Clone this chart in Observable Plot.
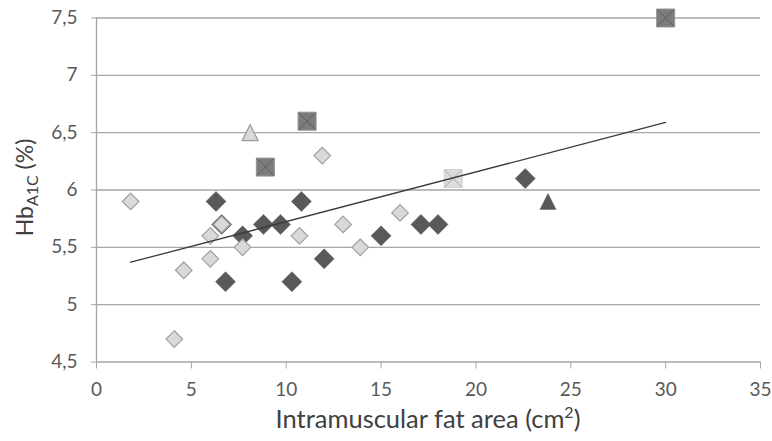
<!DOCTYPE html>
<html>
<head>
<meta charset="utf-8">
<script src="https://cdn.jsdelivr.net/npm/d3@7"></script>
<script src="https://cdn.jsdelivr.net/npm/@observablehq/plot@0.6"></script>
<style>
  html, body { margin: 0; padding: 0; background: #fff; }
</style>
</head>
<body>
<div id="chart"></div>
<script>
// ---- data ----
const xTicks = [0, 5, 10, 15, 20, 25, 30, 35];
const yTicks = [4.5, 5, 5.5, 6, 6.5, 7, 7.5];

const darkDiamondX = [6.3, 6.6, 6.8, 7.7, 8.8, 9.7, 10.3, 10.8, 12.0, 15.0, 17.1, 18.0, 22.6];
const darkDiamondY = [5.9, 5.7, 5.2, 5.6, 5.7, 5.7, 5.2, 5.9, 5.4, 5.6, 5.7, 5.7, 6.1];

const lightDiamondX = [1.8, 4.1, 4.6, 6.0, 6.0, 6.6, 7.7, 10.7, 11.9, 13.0, 13.9, 16.0];
const lightDiamondY = [5.9, 4.7, 5.3, 5.6, 5.4, 5.7, 5.5, 5.6, 6.3, 5.7, 5.5, 5.8];

const lightTriangleX = [8.1];
const lightTriangleY = [6.5];
const darkTriangleX = [23.8];
const darkTriangleY = [5.9];

const darkSquareX = [8.9, 11.1, 30.0];
const darkSquareY = [6.2, 6.6, 7.5];
const lightSquareX = [18.8];
const lightSquareY = [6.1];

const trendX = [1.8, 30.0];
const trendY = [5.37, 6.59];

// ---- helpers ----
const pts = (xs, ys) => xs.map((x, i) => ({x, y: ys[i]}));
const rOf = size => Math.sqrt(size / Math.PI);
const diamondSym = {draw(ctx, size) { const r = rOf(size); ctx.moveTo(0, -r); ctx.lineTo(r, 0); ctx.lineTo(0, r); ctx.lineTo(-r, 0); ctx.closePath(); }};
const squareSym = {draw(ctx, size) { const r = rOf(size); ctx.rect(-r, -r, 2 * r, 2 * r); }};
const timesSym = {draw(ctx, size) { const r = rOf(size); ctx.moveTo(-r, -r); ctx.lineTo(r, r); ctx.moveTo(r, -r); ctx.lineTo(-r, r); }};
const triangleSym = {draw(ctx, size) { const r = rOf(size); ctx.moveTo(0, -r); ctx.lineTo(r, r); ctx.lineTo(-r, r); ctx.closePath(); }};

const FONT = "Lato, 'Open Sans', sans-serif";
const axisColor = "#a6a6a6";
const textColor = "#595959";

const plot = Plot.plot({
  width: 772,
  height: 441,
  marginLeft: 96,
  marginRight: 12,
  marginTop: 17.5,
  marginBottom: 79.5,
  style: {fontFamily: FONT, fontSize: "19px", color: textColor, background: "#fff"},
  x: {domain: [0, 35]},
  y: {domain: [4.5, 7.5]},
  marks: [
    Plot.gridY(yTicks, {stroke: axisColor, strokeOpacity: 1, strokeWidth: 1.3}),
    Plot.ruleX([0], {stroke: axisColor, strokeWidth: 1.3}),
    Plot.axisX({ticks: xTicks, tickSize: 7, tickPadding: 13, stroke: axisColor, fill: textColor, label: null, tickFormat: d => String(d)}),
    Plot.axisY({ticks: yTicks, tickSize: 5, tickPadding: 14, stroke: axisColor, fill: textColor, label: null,
      tickFormat: d => String(d).replace(".", ",")}),
    Plot.dot(pts(darkDiamondX, darkDiamondY), {x: "x", y: "y", symbol: diamondSym, r: 10, fill: "#595959", stroke: "#595959", strokeWidth: 0.5}),
    Plot.dot(pts(lightDiamondX, lightDiamondY), {x: "x", y: "y", symbol: diamondSym, r: 8.3, fill: "#d9d9d9", stroke: "#a0a0a0", strokeWidth: 1.2}),
    Plot.dot(pts(lightTriangleX, lightTriangleY), {x: "x", y: "y", symbol: triangleSym, r: 8, fill: "#d9d9d9", stroke: "#9a9a9a", strokeWidth: 1.2}),
    Plot.dot(pts(darkTriangleX, darkTriangleY), {x: "x", y: "y", symbol: triangleSym, r: 8, fill: "#595959", stroke: "#595959", strokeWidth: 0.5}),
    Plot.dot(pts(darkSquareX, darkSquareY), {x: "x", y: "y", symbol: squareSym, r: 9, fill: "#7c7c7c", stroke: "#959595", strokeWidth: 1}),
    Plot.dot(pts(darkSquareX, darkSquareY), {x: "x", y: "y", symbol: timesSym, r: 8.5, fill: "none", stroke: "#5e5e5e", strokeWidth: 1}),
    Plot.dot(pts(lightSquareX, lightSquareY), {x: "x", y: "y", symbol: squareSym, r: 9, fill: "#dcdcdc", stroke: "#d0d0d0", strokeWidth: 1}),
    Plot.dot(pts(lightSquareX, lightSquareY), {x: "x", y: "y", symbol: timesSym, r: 8.5, fill: "none", stroke: "#a8a8a8", strokeWidth: 1}),
    Plot.line(pts(trendX, trendY), {x: "x", y: "y", stroke: "#3a3a3a", strokeWidth: 1.3})
  ]
});

document.getElementById("chart").appendChild(plot);

// axis titles with sub/superscripts
const svg = d3.select(plot);
const xs = plot.scale("x"), ys = plot.scale("y");
const xMid = (xs.range[0] + xs.range[1]) / 2;
const yMid = (ys.range[0] + ys.range[1]) / 2;

const xt = svg.append("text")
  .attr("x", xMid).attr("y", 428)
  .attr("text-anchor", "middle")
  .attr("font-family", FONT).attr("font-size", 25.5).attr("fill", "#404040");
xt.append("tspan").text("Intramuscular fat area (cm");
xt.append("tspan").attr("dy", -10).attr("font-size", 16).text("2");
xt.append("tspan").attr("dy", 10).text(")");

const yt = svg.append("text")
  .attr("transform", `translate(33,${yMid - 2}) rotate(-90)`)
  .attr("text-anchor", "middle")
  .attr("font-family", FONT).attr("font-size", 23).attr("fill", "#404040");
yt.append("tspan").text("Hb");
yt.append("tspan").attr("dy", 5).attr("font-size", 16).text("A1C");
yt.append("tspan").attr("dy", -5).text(" (%)");
</script>
</body>
</html>
